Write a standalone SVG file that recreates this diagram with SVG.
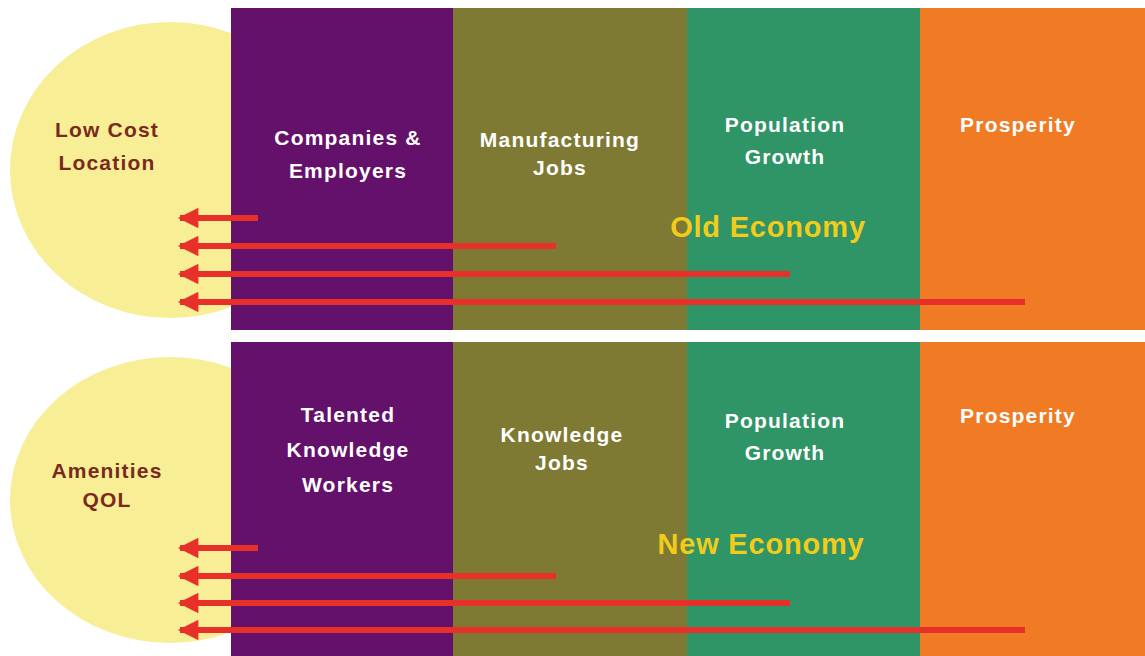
<svg xmlns="http://www.w3.org/2000/svg" width="1145" height="656" viewBox="0 0 1145 656">
<defs>
<style>
.t{font-family:"Liberation Sans",Arial,sans-serif;font-weight:bold;font-size:21px;letter-spacing:1.2px;text-anchor:middle}
.w{fill:#ffffff}
.d{fill:#7a2a1c}
.e{font-family:"Liberation Sans",Arial,sans-serif;font-weight:bold;font-size:29px;letter-spacing:0.8px;text-anchor:middle;fill:#f2cb1c}
.a{stroke:#e8302a;stroke-width:6;fill:none;marker-end:url(#ah)}
</style>
<marker id="ah" viewBox="0 0 10 10" refX="9" refY="5" markerWidth="3.6" markerHeight="3.4" orient="auto" markerUnits="strokeWidth">
<path d="M0,0 L10,5 L0,10 Z" fill="#e8302a"/>
</marker>
</defs>
<rect width="1145" height="656" fill="#ffffff"/>
<g id="top-band">
<g id="low-cost"><ellipse cx="170" cy="170" rx="160" ry="148" fill="#f7ee96"/><text class="t d" x="107" y="137">Low Cost</text><text class="t d" x="107" y="170">Location</text></g>
<g id="companies"><rect x="231" y="8" width="222" height="322" fill="#64116b"/><text class="t w" x="348" y="145">Companies &amp;</text><text class="t w" x="348" y="178">Employers</text></g>
<g id="manufacturing"><rect x="453" y="8" width="234" height="322" fill="#7f7a33"/><text class="t w" x="560" y="147">Manufacturing</text><text class="t w" x="560" y="175">Jobs</text></g>
<g id="pop1"><rect x="687" y="8" width="233" height="322" fill="#2f9466"/><text class="t w" x="785" y="132">Population</text><text class="t w" x="785" y="164">Growth</text></g>
<g id="prosperity1"><rect x="920" y="8" width="225" height="322" fill="#f07b24"/><text class="t w" x="1018" y="132">Prosperity</text></g>
<text class="e" x="768" y="237">Old Economy</text>
</g>
<g id="bottom-band">
<g id="amenities"><ellipse cx="170" cy="500" rx="160" ry="143" fill="#f7ee96"/><text class="t d" x="107" y="478">Amenities</text><text class="t d" x="107" y="507">QOL</text></g>
<g id="talented"><rect x="231" y="342" width="222" height="314" fill="#64116b"/><text class="t w" x="348" y="422">Talented</text><text class="t w" x="348" y="457">Knowledge</text><text class="t w" x="348" y="492">Workers</text></g>
<g id="knowledge"><rect x="453" y="342" width="234" height="314" fill="#7f7a33"/><text class="t w" x="562" y="442">Knowledge</text><text class="t w" x="562" y="470">Jobs</text></g>
<g id="pop2"><rect x="687" y="342" width="233" height="314" fill="#2f9466"/><text class="t w" x="785" y="428">Population</text><text class="t w" x="785" y="460">Growth</text></g>
<g id="prosperity2"><rect x="920" y="342" width="225" height="314" fill="#f07b24"/><text class="t w" x="1018" y="423">Prosperity</text></g>
<text class="e" x="761" y="554">New Economy</text>
</g>
<g id="connectors">
<line class="a" x1="258" y1="218" x2="180" y2="218"/>
<line class="a" x1="556" y1="246" x2="180" y2="246"/>
<line class="a" x1="790" y1="274" x2="180" y2="274"/>
<line class="a" x1="1025" y1="302" x2="180" y2="302"/>
<line class="a" x1="258" y1="548" x2="180" y2="548"/>
<line class="a" x1="556" y1="576" x2="180" y2="576"/>
<line class="a" x1="790" y1="603" x2="180" y2="603"/>
<line class="a" x1="1025" y1="630" x2="180" y2="630"/>
</g>
</svg>
